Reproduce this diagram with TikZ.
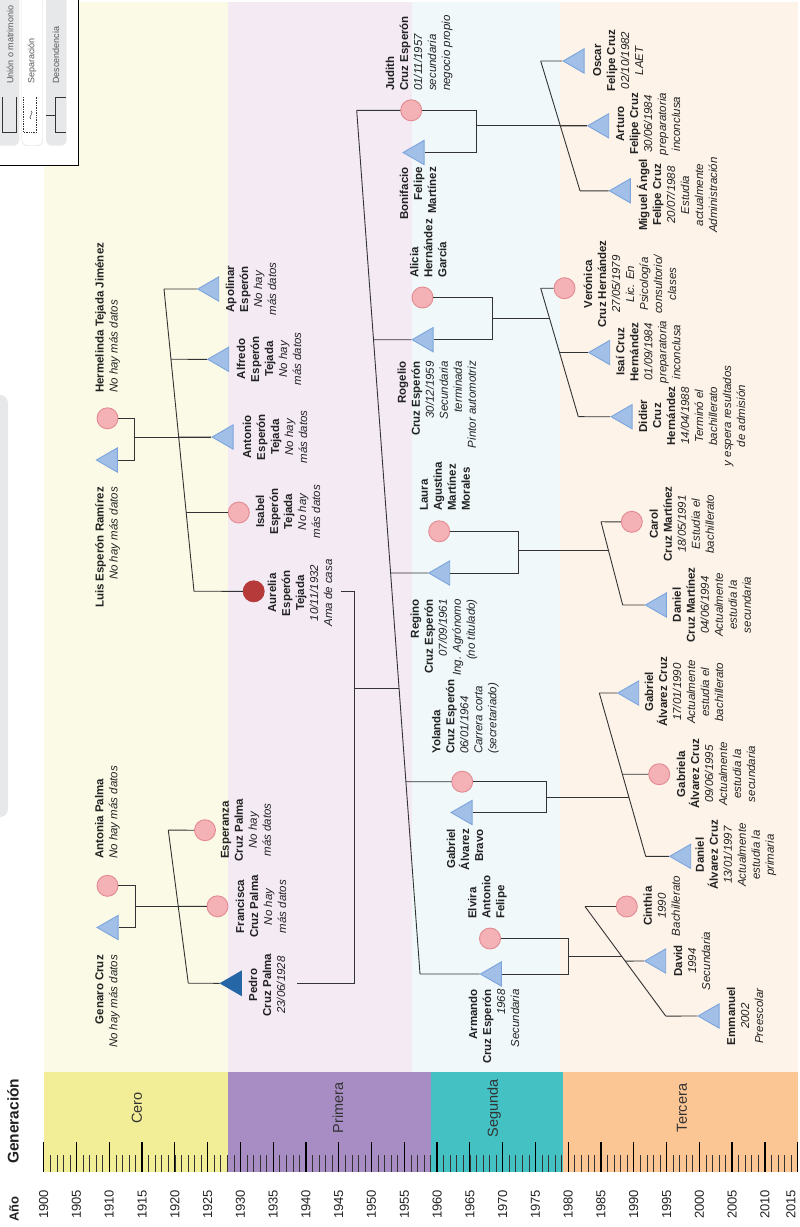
\documentclass[tikz,border=0pt]{standalone}
\usepackage{fontspec}
\setmainfont{Liberation Sans}
\usetikzlibrary{shapes.geometric}

\definecolor{cero}{HTML}{F2EE98}
\definecolor{primera}{HTML}{A78DC4}
\definecolor{segunda}{HTML}{43C1C3}
\definecolor{tercera}{HTML}{FCC594}
\definecolor{ceroC}{HTML}{FBFAE6}
\definecolor{primeraC}{HTML}{F4EAF4}
\definecolor{segundaC}{HTML}{F0F8FA}
\definecolor{terceraC}{HTML}{FDF3E9}
\definecolor{rosa}{HTML}{F5B2B6}
\definecolor{rosaB}{HTML}{E38A92}
\definecolor{azul}{HTML}{A2C0E7}
\definecolor{azulB}{HTML}{7BA5DC}
\definecolor{azulO}{HTML}{2566A6}
\definecolor{rojoO}{HTML}{B63A3A}
\definecolor{linea}{HTML}{333333}
\definecolor{texto}{HTML}{222222}
\definecolor{leyenda}{HTML}{E7E8EA}

\newcommand{\nom}[1]{\textbf{#1}}
\newcommand{\dat}[1]{\textit{#1}}

\tikzset{
  mujer/.style={circle, draw=rosaB, fill=rosa, line width=0.9pt, minimum size=21pt, inner sep=0pt},
  hombre/.style={regular polygon, regular polygon sides=3, shape border rotate=90, draw=azulB, fill=azul, line width=0.9pt, minimum size=28pt, inner sep=0pt},
  dato/.style={rotate=90, align=center, inner sep=0pt, text=texto, font=\fontsize{11.5}{14}\selectfont},
  enlace/.style={draw=linea, line width=0.9pt},
  anio/.style={rotate=90, anchor=west, inner sep=0pt, text=texto, font=\fontsize{13}{15}\selectfont},
  banda/.style={rotate=90, inner sep=0pt, text=linea, font=\fontsize{14.5}{16}\selectfont},
  nota/.style={rotate=90, anchor=west, inner sep=0pt, text=black!65, font=\fontsize{9}{10}\selectfont},
}

\begin{document}
\begin{tikzpicture}[x=1pt, y=-1pt]
\useasboundingbox (0,0) rectangle (800,1227);

% Generation bands
\fill[ceroC] (44,2) rectangle (227.7,1072);
\fill[primeraC] (227.7,2) rectangle (412,1072);
\fill[segundaC] (412,2) rectangle (560,1072);
\fill[terceraC] (560,2) rectangle (797.6,1072);
\fill[cero] (44,1072) rectangle (227.7,1172);
\fill[primera] (227.7,1072) rectangle (431,1172);
\fill[segunda] (431,1072) rectangle (563,1172);
\fill[tercera] (563,1072) rectangle (797.6,1172);

\node[banda] (g0) at (137,1108) {Cero};
\node[banda] (g1) at (338,1108) {Primera};
\node[banda] (g2) at (494,1108) {Segunda};
\node[banda] (g3) at (682,1108) {Tercera};

% Year axis
\foreach \a in {1900,1901,...,2015}
  \draw[linea, line width=0.6pt] ({43.7+6.556*(\a-1900)},1155) -- ++(0,17);
\foreach \a in {1900,1905,...,2015} {
  \draw[black, line width=1.3pt] ({43.7+6.556*(\a-1900)},1142) -- ++(0,30);
  \node[anio] (a\a) at ({min(43.7+6.556*(\a-1900),791)},1219) {\a};
}
\node[anio, font=\fontsize{13}{15}\selectfont\bfseries] (anio) at (14,1222) {Año};
\node[anio, font=\fontsize{15.5}{17}\selectfont\bfseries] (gen) at (13,1164) {Generación};

% Legend
\fill[leyenda, rounded corners=8pt] (-10,395) rectangle (8,817);
\draw[black, fill=white, line width=0.8pt] (-5,-5) rectangle (78,165);
\fill[leyenda, rounded corners=6pt] (-5,-5) rectangle (19.3,145.7);
\draw[black!15, fill=white, rounded corners=6pt] (21.7,-5) rectangle (42.7,145.7);
\fill[leyenda, rounded corners=6pt] (46,-5) rectangle (66.7,145.7);
\draw[linea, line width=0.8pt] (2.7,97) -- (2.7,132) -- (16,132) -- (16,97);
\draw[linea, line width=0.7pt, densely dotted] (23.3,97) -- (23.3,132) -- (36.7,132) -- (36.7,97);
\draw[linea, line width=0.5pt] (31,111) .. controls (35,112) and (27,118) .. (31,119);
\draw[linea, line width=0.8pt] (65.7,97) -- (55,97) -- (55,132) -- (65.7,132);
\draw[linea, line width=0.8pt] (46,115) -- (55,115);
\node[nota] (n1) at (10,84) {Unión o matrimonio};
\node[nota] (n2) at (32,84) {Separación};
\node[nota] (n3) at (56,84) {Descendencia};

% People
\node[hombre] (genaro) at (111.1,927.5) {};
\node[mujer] (antonia) at (107.5,885.8) {};
\node[mujer] (francisca) at (217.5,906.3) {};
\node[mujer] (esperanza) at (205,830.2) {};
\node[hombre, fill=azulO, draw=azulO] (pedro) at (234.4,983.3) {};
\node[hombre] (luis) at (110.4,460) {};
\node[mujer] (hermelinda) at (107.5,418.3) {};
\node[hombre] (antonio) at (226.1,437) {};
\node[hombre] (apolinar) at (211.7,289) {};
\node[hombre] (alfredo) at (221.7,359.3) {};
\node[mujer] (isabel) at (238.8,512.5) {};
\node[mujer, fill=rojoO, draw=rojoO] (aurelia) at (253.7,591.3) {};
\node[mujer] (judith) at (411.2,110.3) {};
\node[hombre] (bonifacio) at (417.1,152.5) {};
\node[hombre] (rogelio) at (426.1,339.7) {};
\node[mujer] (alicia) at (422.5,297.5) {};
\node[hombre] (regino) at (442.7,573) {};
\node[mujer] (laura) at (439.2,531.3) {};
\node[mujer] (yolanda) at (462.2,781.7) {};
\node[hombre] (gabrielab) at (465.1,812.5) {};
\node[hombre] (armando) at (494.4,974) {};
\node[mujer] (elvira) at (490,938.5) {};
\node[hombre] (oscar) at (577.1,61) {};
\node[hombre] (arturo) at (601.7,125.8) {};
\node[hombre] (miguel) at (623.4,190.8) {};
\node[mujer] (veronica) at (564.5,288.2) {};
\node[hombre] (isai) at (602.7,352.5) {};
\node[hombre] (didier) at (625.1,416.7) {};
\node[mujer] (carol) at (631.8,521.8) {};
\node[hombre] (danielcm) at (659.4,605) {};
\node[hombre] (gabrielac) at (631.7,693) {};
\node[mujer] (gabriela) at (659.2,774.2) {};
\node[hombre] (danielac) at (683.7,856.3) {};
\node[mujer] (cinthia) at (626.8,906.5) {};
\node[hombre] (david) at (658.7,961) {};
\node[hombre] (emmanuel) at (712.1,1016) {};

% Unions and sibling lines
\coordinate (m1) at (135.7,906.3);
\coordinate (m2) at (134.3,437);
\coordinate (m3) at (354.5,688.3);
\coordinate (m4) at (476.7,125.8);
\coordinate (m5) at (492.3,318.3);
\coordinate (m6) at (518.3,550);
\coordinate (m7) at (546.7,797.3);
\coordinate (m8) at (568.3,956);
\coordinate (aurelia-fin) at (341,591.3);
\coordinate (pedro-fin) at (297,983.3);
\coordinate (d3) at (399.1,688.3);
\coordinate (d5) at (549.7,318.3);
\coordinate (d6) at (608.5,550);
\coordinate (d7) at (629,797.3);
\coordinate (d8) at (621.5,956);
\coordinate (s1a) at (168.3,830.2);  \coordinate (s1b) at (188.3,983.3);
\coordinate (s2a) at (164,289);      \coordinate (s2b) at (194,591.3);
\coordinate (s3a) at (356.7,110.3);  \coordinate (s3b) at (420,974);
\coordinate (s4a) at (540.7,61);     \coordinate (s4b) at (580,190.8);
\coordinate (s5a) at (540.7,288.2);  \coordinate (s5b) at (578.3,416.7);
\coordinate (s6a) at (601,521.8);    \coordinate (s6b) at (622.7,605);
\coordinate (s7a) at (599.3,693);    \coordinate (s7b) at (645.7,856.3);
\coordinate (s8a) at (585,906.5);    \coordinate (s8b) at (665.7,1016);

\draw[enlace] (antonia.0) -| (m1) |- (genaro.0);
\draw[enlace] (m1) -- (francisca.180);
\draw[enlace] (hermelinda.0) -| (m2) |- (luis.0);
\draw[enlace] (m2) -- (antonio.180);
\draw[enlace] (aurelia-fin) -| (m3) |- (pedro-fin);
\draw[enlace] (m3) -- (d3);
\draw[enlace] (judith.0) -| (m4) |- (bonifacio.0);
\draw[enlace] (m4) -- (arturo.180);
\draw[enlace] (alicia.0) -| (m5) |- (rogelio.0);
\draw[enlace] (m5) -- (d5);
\draw[enlace] (laura.0) -| (m6) |- (regino.0);
\draw[enlace] (m6) -- (d6);
\draw[enlace] (yolanda.0) -| (m7) |- (gabrielab.0);
\draw[enlace] (m7) -- (d7);
\draw[enlace] (elvira.0) -| (m8) |- (armando.0);
\draw[enlace] (m8) -- (d8);

\foreach \s/\kids in {1/{esperanza,francisca,pedro},
                      2/{apolinar,alfredo,antonio,isabel,aurelia},
                      3/{judith,rogelio,regino,yolanda,armando},
                      4/{oscar,arturo,miguel},
                      5/{veronica,isai,didier},
                      6/{carol,danielcm},
                      7/{gabrielac,gabriela,danielac},
                      8/{cinthia,david,emmanuel}} {
  \draw[enlace] (s\s a) -- (s\s b);
  \foreach \k in \kids
    \draw[enlace] (intersection of s\s a--s\s b and \k.180--\k.0) -- (\k.180);
}

% Labels
\node[dato, align=right, anchor=east] (t-genaro) at (107.5,955) {\nom{Genaro Cruz}\\\dat{No hay más datos}};
\node[dato, align=left, anchor=west] (t-antonia) at (107.5,859) {\nom{Antonia Palma}\\\dat{No hay más datos}};
\node[dato] (t-francisca) at (261,906.5) {\nom{Francisca}\\\nom{Cruz Palma}\\\dat{No hay}\\\dat{más datos}};
\node[dato] (t-esperanza) at (246,830) {\nom{Esperanza}\\\nom{Cruz Palma}\\\dat{No hay}\\\dat{más datos}};
\node[dato] (t-pedro) at (267,985) {\nom{Pedro}\\\nom{Cruz Palma}\\\dat{23/06/1928}};
\node[dato, align=left, anchor=west] (t-hermelinda) at (107.5,393) {\nom{Hermelinda Tejada Jiménez}\\\dat{No hay más datos}};
\node[dato, align=right, anchor=east] (t-luis) at (107.5,487) {\nom{Luis Esperón Ramírez}\\\dat{No hay más datos}};
\node[dato] (t-apolinar) at (251,289) {\nom{Apolinar}\\\nom{Esperón}\\\dat{No hay}\\\dat{más datos}};
\node[dato] (t-alfredo) at (269,359) {\nom{Alfredo}\\\nom{Esperón}\\\nom{Tejada}\\\dat{No hay}\\\dat{más datos}};
\node[dato] (t-antonio) at (275,437) {\nom{Antonio}\\\nom{Esperón}\\\nom{Tejada}\\\dat{No hay}\\\dat{más datos}};
\node[dato] (t-isabel) at (288,511.5) {\nom{Isabel}\\\nom{Esperón}\\\nom{Tejada}\\\dat{No hay}\\\dat{más datos}};
\node[dato] (t-aurelia) at (300,593) {\nom{Aurelia}\\\nom{Esperón}\\\nom{Tejada}\\\dat{10/11/1932}\\\dat{Ama de casa}};
\node[dato, align=left, anchor=west] (t-judith) at (419.2,91) {\nom{Judith}\\\nom{Cruz Esperón}\\\dat{01/11/1957}\\\dat{secundaria}\\\dat{negocio propio}};
\node[dato, align=right, anchor=east] (t-bonifacio) at (418,167) {\nom{Bonifacio}\\\nom{Felipe}\\\nom{Martínez}};
\node[dato, align=left, anchor=west] (t-alicia) at (428.3,278) {\nom{Alicia}\\\nom{Hernández}\\\nom{García}};
\node[dato, align=right, anchor=east] (t-rogelio) at (436.7,361) {\nom{Rogelio}\\\nom{Cruz Esperón}\\\dat{30/12/1959}\\\dat{Secundaria}\\\dat{terminada}\\\dat{Pintor automotriz}};
\node[dato, align=left, anchor=west] (t-laura) at (445,511) {\nom{Laura}\\\nom{Agustina}\\\nom{Martínez}\\\nom{Morales}};
\node[dato, align=right, anchor=east] (t-regino) at (444,599) {\nom{Regino}\\\nom{Cruz Esperón}\\\dat{07/09/1961}\\\dat{Ing. Agrónomo}\\\dat{(no titulado)}};
\node[dato, align=left, anchor=west] (t-yolanda) at (465.5,754) {\nom{Yolanda}\\\nom{Cruz Esperón}\\\dat{06/01/1964}\\\dat{Carrera corta}\\\dat{(secretariado)}};
\node[dato, align=right, anchor=east] (t-gabrielab) at (465,829) {\nom{Gabriel}\\\nom{Álvarez}\\\nom{Bravo}};
\node[dato, align=left, anchor=west] (t-elvira) at (487.5,919) {\nom{Elvira}\\\nom{Antonio}\\\nom{Felipe}};
\node[dato, align=right, anchor=east] (t-armando) at (494,989) {\nom{Armando}\\\nom{Cruz Esperón}\\\dat{1968}\\\dat{Secundaria}};
\node[dato] (t-oscar) at (618,60.5) {\nom{Oscar}\\\nom{Felipe Cruz}\\\dat{02/10/1982}\\\dat{LAET}};
\node[dato] (t-arturo) at (648.3,124) {\nom{Arturo}\\\nom{Felipe Cruz}\\\dat{30/06/1984}\\\dat{preparatoria}\\\dat{inconclusa}};
\node[dato] (t-miguel) at (677,195) {\nom{Miguel Ángel}\\\nom{Felipe Cruz}\\\dat{20/07/1988}\\\dat{Estudia}\\\dat{actualmente}\\\dat{Administración}};
\node[dato] (t-veronica) at (630,284) {\nom{Verónica}\\\nom{Cruz Hernández}\\\dat{27/05/1979}\\\dat{Lic. En}\\\dat{Psicología}\\\dat{consultorio/}\\\dat{clases}};
\node[dato] (t-isai) at (648.3,352) {\nom{Isaí Cruz}\\\nom{Hernández}\\\dat{01/09/1984}\\\dat{preparatoria}\\\dat{inconclusa}};
\node[dato] (t-didier) at (692,416) {\nom{Didier}\\\nom{Cruz}\\\nom{Hernández}\\\dat{14/04/1988}\\\dat{Terminó el}\\\dat{bachillerato}\\\dat{y espera resultados}\\\dat{de admisión}};
\node[dato] (t-carol) at (681.7,524) {\nom{Carol}\\\nom{Cruz Martínez}\\\dat{18/05/1991}\\\dat{Estudia el}\\\dat{bachillerato}};
\node[dato] (t-danielcm) at (711.7,605) {\nom{Daniel}\\\nom{Cruz Martínez}\\\dat{04/06/1994}\\\dat{Actualmente}\\\dat{estudia la}\\\dat{secundaria}};
\node[dato] (t-gabrielac) at (684,692) {\nom{Gabriel}\\\nom{Álvarez Cruz}\\\dat{17/01/1990}\\\dat{Actualmente}\\\dat{estudia el}\\\dat{bachillerato}};
\node[dato] (t-gabriela) at (716,774) {\nom{Gabriela}\\\nom{Álvarez Cruz}\\\dat{09/06/1995}\\\dat{Actualmente}\\\dat{estudia la}\\\dat{secundaria}};
\node[dato] (t-danielac) at (736,855) {\nom{Daniel}\\\nom{Álvarez Cruz}\\\dat{13/01/1997}\\\dat{Actualmente}\\\dat{estudia la}\\\dat{primaria}};
\node[dato] (t-cinthia) at (661.7,906) {\nom{Cinthia}\\\dat{1990}\\\dat{Bachillerato}};
\node[dato] (t-david) at (692,961) {\nom{David}\\\dat{1994}\\\dat{Secundaria}};
\node[dato] (t-emmanuel) at (745,1016) {\nom{Emmanuel}\\\dat{2002}\\\dat{Preescolar}};
\end{tikzpicture}
\end{document}
